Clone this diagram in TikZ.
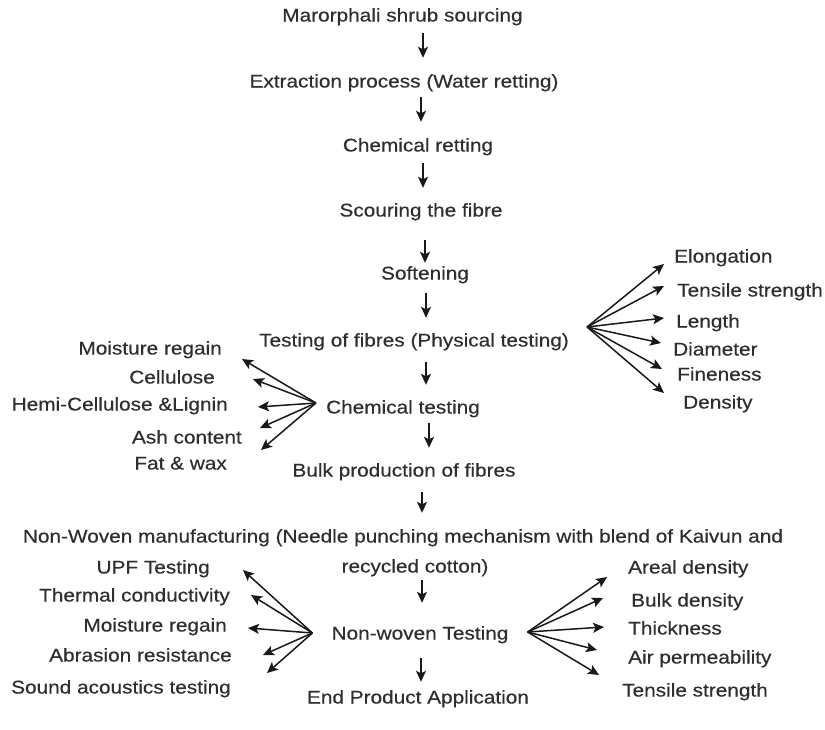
\documentclass[tikz,border=0pt]{standalone}
\usepackage{fontspec}
\setmainfont[FakeStretch=1.13,FakeBold=0.4]{Liberation Sans}
\usetikzlibrary{arrows.meta}
\definecolor{txt}{HTML}{2E2E2E}
\tikzset{
  lbl/.style={inner sep=0pt, text height=13pt, text depth=0pt, text=txt, font=\fontsize{18.4}{22}\selectfont},
  arr/.style={line width=1.5pt, draw=black!90, -{Stealth[length=11pt,width=10pt,inset=2.5pt]}},
}
\begin{document}
\begin{tikzpicture}[x=1pt,y=-1pt]
\useasboundingbox (0,0) rectangle (825,729);
% main column
\node[lbl] (n1) at (402.5,15) {Marorphali shrub sourcing};
\node[lbl] (n2) at (404,81) {Extraction process (Water retting)};
\node[lbl] (n3) at (418,145) {Chemical retting};
\node[lbl] (n4) at (421,210) {Scouring the fibre};
\node[lbl] (n5) at (425,273) {Softening};
\node[lbl] (n6) at (414,340) {Testing of fibres (Physical testing)};
\node[lbl] (n7) at (403,407) {Chemical testing};
\node[lbl] (n8) at (404,470) {Bulk production of fibres};
\node[lbl] (n9) at (403,536) {Non-Woven manufacturing (Needle punching mechanism with blend of Kaivun and};
\node[lbl] (n9b) at (415,566) {recycled cotton)};
\node[lbl] (n10) at (420,633) {Non-woven Testing};
\node[lbl] (n11) at (418,697) {End Product Application};
% arrow columns
\coordinate (c1) at (423,0);
\coordinate (c2) at (421,0);
\coordinate (c3) at (423,0);
\coordinate (c4) at (425,0);
\coordinate (c5) at (426,0);
\coordinate (c6) at (426,0);
\coordinate (c7) at (429,0);
\coordinate (c8) at (422,0);
\coordinate (c9) at (422,0);
\coordinate (c10) at (421,0);
\draw[arr, shorten <=11.5pt, shorten >=16.5pt] (n1.south -| c1) -- (n2.north -| c1);
\draw[arr, shorten <=9.5pt, shorten >=16.5pt] (n2.south -| c2) -- (n3.north -| c2);
\draw[arr, shorten <=11.5pt, shorten >=15.5pt] (n3.south -| c3) -- (n4.north -| c3);
\draw[arr, shorten <=23.5pt, shorten >=3.5pt] (n4.south -| c4) -- (n5.north -| c4);
\draw[arr, shorten <=13.5pt, shorten >=15.5pt] (n5.south -| c5) -- (n6.north -| c5);
\draw[arr, shorten <=15.5pt, shorten >=15.5pt] (n6.south -| c6) -- (n7.north -| c6);
\draw[arr, shorten <=9.5pt, shorten >=15.5pt] (n7.south -| c7) -- (n8.north -| c7);
\draw[arr, shorten <=15.5pt, shorten >=16.5pt] (n8.south -| c8) -- (n9.north -| c8);
\draw[arr, shorten <=7.5pt, shorten >=23.5pt] (n9b.south -| c9) -- (n10.north -| c9);
\draw[arr, shorten <=18.5pt, shorten >=8.5pt] (n10.south -| c10) -- (n11.north -| c10);
% physical testing fan
\node[lbl, anchor=west] (p1) at (674,256) {Elongation};
\node[lbl, anchor=west] (p2) at (677,290) {Tensile strength};
\node[lbl, anchor=west] (p3) at (676,321) {Length};
\node[lbl, anchor=west] (p4) at (673,349) {Diameter};
\node[lbl, anchor=west] (p5) at (677,374) {Fineness};
\node[lbl, anchor=west] (p6) at (683,402) {Density};
\coordinate (fp) at ([shift={(18,-13)}]n6.east);
\draw[arr] (fp) -- ([shift={(-10,8)}]p1.west);
\draw[arr] (fp) -- ([shift={(-13,-4)}]p2.west);
\draw[arr] (fp) -- ([shift={(-12,-3)}]p3.west);
\draw[arr] (fp) -- ([shift={(-12,-6)}]p4.west);
\draw[arr] (fp) -- ([shift={(-15,-5)}]p5.west);
\draw[arr] (fp) -- ([shift={(-19,-9)}]p6.west);
% chemical testing fan
\node[lbl, anchor=east] (m1) at (222,348) {Moisture regain};
\node[lbl, anchor=east] (m2) at (215,377) {Cellulose};
\node[lbl, anchor=east] (m3) at (228,404) {Hemi-Cellulose \&Lignin};
\node[lbl, anchor=east] (m4) at (242,437) {Ash content};
\node[lbl, anchor=east] (m5) at (227,463) {Fat \& wax};
\coordinate (fm) at ([shift={(-10,-4)}]n7.west);
\draw[arr] (fm) -- ([shift={(20,11)}]m1.east);
\draw[arr] (fm) -- ([shift={(38,2)}]m2.east);
\draw[arr] (fm) -- ([shift={(30,3)}]m3.east);
\draw[arr] (fm) -- ([shift={(18,-9)}]m4.east);
\draw[arr] (fm) -- ([shift={(34,-13)}]m5.east);
% non-woven testing left fan
\node[lbl, anchor=east] (l1) at (210,567) {UPF Testing};
\node[lbl, anchor=east] (l2) at (230,595) {Thermal conductivity};
\node[lbl, anchor=east] (l3) at (227,625) {Moisture regain};
\node[lbl, anchor=east] (l4) at (232,655) {Abrasion resistance};
\node[lbl, anchor=east] (l5) at (231,687) {Sound acoustics testing};
\coordinate (fl) at ([shift={(-19,0)}]n10.west);
\draw[arr] (fl) -- ([shift={(33,3)}]l1.east);
\draw[arr] (fl) -- ([shift={(21,0)}]l2.east);
\draw[arr] (fl) -- ([shift={(21,3)}]l3.east);
\draw[arr] (fl) -- ([shift={(31,0)}]l4.east);
\draw[arr] (fl) -- ([shift={(36,-14)}]l5.east);
% non-woven testing right fan
\node[lbl, anchor=west] (r1) at (628,567) {Areal density};
\node[lbl, anchor=west] (r2) at (631,600) {Bulk density};
\node[lbl, anchor=west] (r3) at (628,628) {Thickness};
\node[lbl, anchor=west] (r4) at (628,657) {Air permeability};
\node[lbl, anchor=west] (r5) at (622,690) {Tensile strength};
\coordinate (fr) at ([shift={(19,-1)}]n10.east);
\draw[arr] (fr) -- ([shift={(-21,10)}]r1.west);
\draw[arr] (fr) -- ([shift={(-28,-2)}]r2.west);
\draw[arr] (fr) -- ([shift={(-24,-1)}]r3.west);
\draw[arr] (fr) -- ([shift={(-31,-7)}]r4.west);
\draw[arr] (fr) -- ([shift={(-23,-15)}]r5.west);
\end{tikzpicture}
\end{document}
